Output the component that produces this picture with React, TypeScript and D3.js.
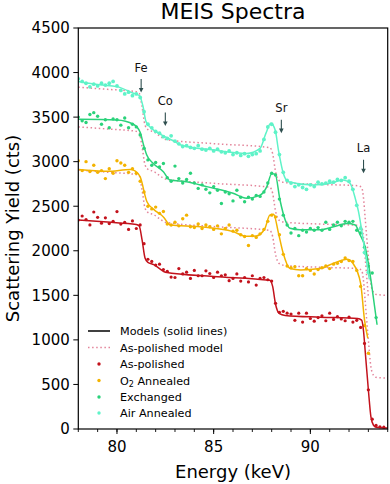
import React from 'react'
import * as d3 from 'd3'

// channel energies (keV) shared by all four spectra
const energies = [
  78.0, 78.2, 78.4, 78.6, 78.8, 79.0, 79.2, 79.4, 79.6, 79.8,
  80.0, 80.2, 80.4, 80.6, 80.8, 81.0, 81.2, 81.4, 81.6, 81.8,
  82.0, 82.2, 82.4, 82.6, 82.8, 83.0, 83.2, 83.4, 83.6, 83.8,
  84.0, 84.2, 84.4, 84.6, 84.8, 85.0, 85.2, 85.4, 85.6, 85.8,
  86.0, 86.2, 86.4, 86.6, 86.8, 87.0, 87.2, 87.4, 87.6, 87.8,
  88.0, 88.2, 88.4, 88.6, 88.8, 89.0, 89.2, 89.4, 89.6, 89.8,
  90.0, 90.2, 90.4, 90.6, 90.8, 91.0, 91.2, 91.4, 91.6, 91.8,
  92.0, 92.2, 92.4, 92.6, 92.8, 93.0, 93.2, 93.4, 93.6, 93.8
]

const polishedYield = [
  2345, 2390, 2350, 2290, 2435, 2375, 2310, 2370, 2305, 2330,
  2440, 2300, 2320, 2240, 2335, 2250, 2290, 2080, 1905, 1880,
  1840, 1850, 1790, 1770, 1705, 1700, 1800, 1740, 1760, 1690,
  1780, 1720, 1720, 1775, 1745, 1700, 1760, 1720, 1730, 1665,
  1690, 1740, 1660, 1700, 1650, 1720, 1615, 1690, 1700, 1675,
  1660, 1410, 1310, 1320, 1300, 1290, 1220, 1300, 1200, 1300,
  1240, 1210, 1250, 1270, 1215, 1300, 1230, 1260, 1235, 1215,
  1255, 1200, 1220, 1140, 960, 440, 110, 40, 25, 20
]

const o2Yield = [
  3010, 2900, 3000, 2890, 2960, 2880, 2900, 2810, 2920, 2870,
  3010, 2985, 2960, 2880, 2920, 2870, 2780, 2660, 2500, 2470,
  2490, 2420, 2440, 2300, 2290, 2320, 2280, 2360, 2400, 2270,
  2260, 2300, 2250, 2290, 2270, 2240, 2280, 2190, 2250, 2290,
  2220, 2230, 2180, 2160, 2060, 2170, 2150, 2190, 2240, 2330,
  2400, 2380, 2180, 1960, 1830, 1810, 1820, 1720, 1720, 1800,
  1780, 1740, 1790, 1810, 1830, 1800, 1850, 1860, 1880, 1920,
  1890, 1880, 1780, 1600, 1160, 850
]

const exchangedYield = [
  3500, 3460, 3440, 3530, 3550, 3510, 3420, 3470, 3380, 3480,
  3470, 3410, 3490, 3380, 3420, 3390, 3300, 3150, 3020, 2960,
  2990, 2940, 2980, 2820, 2780, 2950, 2810, 2760, 2800, 2870,
  2760, 2700, 2740, 2690, 2650, 2720, 2680, 2530, 2660, 2640,
  2560, 2680, 2600, 2550, 2600, 2580, 2620, 2610, 2660, 2760,
  2870, 2850, 2580, 2400, 2290, 2200, 2250, 2170, 2230, 2210,
  2250, 2230, 2260, 2230, 2320, 2240, 2290, 2320, 2280, 2330,
  2320, 2330, 2230, 2200, 2040, 1830, 1750, 1250
]

const airYield = [
  3930, 3900, 3880, 3840, 3870, 3850, 3880, 3860, 3880, 3900,
  3850, 3800, 3760, 3780, 3740, 3760, 3720, 3560, 3420, 3380,
  3340, 3320, 3280, 3260, 3290, 3230, 3200, 3170, 3180, 3160,
  3150, 3180, 3140, 3130, 3150, 3120, 3140, 3110, 3100, 3120,
  3080, 3100, 3070, 3090, 3060, 3080, 3090, 3120, 3250, 3390,
  3420, 3330, 3080, 2880, 2790, 2760, 2720, 2740, 2710, 2690,
  2740, 2720, 2770, 2750, 2760, 2780, 2770, 2800, 2790, 2820,
  2780, 2690, 2510, 2250, 1980, 1760
]

// fitted models (solid lines): [energy, yield]
const polishedModel = [
  [78, 2345], [79.5, 2322], [81.0, 2295], [81.15, 2278], [81.3, 2120], [81.45, 1920],
  [81.6, 1870], [81.9, 1845], [82.2, 1800], [82.5, 1760], [85, 1712], [87.9, 1668],
  [88.05, 1600], [88.2, 1400], [88.4, 1295], [88.7, 1275], [90.5, 1255], [92.45, 1240],
  [92.65, 1222], [92.75, 1100], [92.83, 890], [93.0, 440], [93.13, 140], [93.26, 45],
  [93.4, 20], [94, 10]
]
const o2Model = [
  [78, 2912], [79.5, 2892], [80.7, 2912], [80.95, 2895], [81.2, 2830], [81.55, 2550],
  [81.9, 2465], [82.4, 2380], [82.75, 2290], [84.3, 2270], [86.0, 2215], [86.7, 2162],
  [87.2, 2166], [87.65, 2250], [87.9, 2400], [88.1, 2410], [88.35, 2200], [88.6, 1970],
  [88.95, 1800], [89.5, 1785], [90.5, 1800], [91.2, 1860], [91.9, 1905], [92.2, 1860],
  [92.6, 1635], [92.8, 1225], [92.97, 1020]
]
const exchangedModel = [
  [78, 3475], [80, 3468], [80.85, 3420], [81.2, 3330], [81.36, 3200], [81.54, 3074],
  [81.88, 2980], [82.4, 2887], [82.74, 2795], [83.6, 2775], [84.64, 2720], [86, 2645],
  [86.7, 2590], [87.4, 2625], [87.75, 2720], [88.0, 2865], [88.18, 2860], [88.43, 2570],
  [88.7, 2345], [88.95, 2252], [89.47, 2235], [90.5, 2235], [91.2, 2270], [91.9, 2305],
  [92.32, 2290], [92.57, 2180], [92.83, 2045], [93.0, 1860], [93.18, 1600], [93.45, 1170]
]
const airModel = [
  [78, 3900], [79.1, 3862], [80, 3842], [80.85, 3768], [81.17, 3740], [81.35, 3616],
  [81.5, 3450], [81.78, 3375], [82.3, 3300], [83.0, 3224], [83.26, 3190], [85, 3130],
  [86.7, 3093], [87.4, 3150], [87.7, 3317], [87.95, 3430], [88.18, 3355], [88.35, 3130],
  [88.6, 2870], [88.86, 2775], [90.16, 2738], [91.02, 2757], [91.7, 2794], [92.05, 2757],
  [92.3, 2607], [92.49, 2440], [92.75, 2100], [93.05, 1680]
]

// as-polished model shifted under each treated spectrum
const dottedOffsets = [1490, 1045, 560]
const dottedEnds = [94, 93.0, 94]

const elements = ['Fe', 'Co', 'Sr', 'La']
const elementEnergies = [81.25, 82.5, 88.5, 92.75]
const elementArrowTips = [3775, 3400, 3320, 2870]

const colors = {
  polished: '#c3121c',
  o2: '#f3b300',
  exchanged: '#2ad27a',
  air: '#5ff3c8',
  dotted: '#e3849a',
  arrow: '#2f4f4f'
}

const W = 390
const H = 484
const margin = {top: 28, right: 2.3, bottom: 55, left: 78.3}
const font = 'DejaVu Sans, sans-serif'

export default function App() {
  const x = d3.scaleLinear().domain([78, 94]).range([margin.left, W - margin.right])
  const y = d3.scaleLinear().domain([0, 4500]).range([H - margin.bottom, margin.top])

  const line = d3
    .line<number[]>()
    .x(d => x(d[0]))
    .y(d => y(d[1]))
    .curve(d3.curveMonotoneX)

  const series = [
    {name: 'As-polished', values: polishedYield, model: polishedModel, color: colors.polished, r: 1.6},
    {name: 'O2 Annealed', values: o2Yield, model: o2Model, color: colors.o2, r: 1.7},
    {name: 'Exchanged', values: exchangedYield, model: exchangedModel, color: colors.exchanged, r: 1.7},
    {name: 'Air Annealed', values: airYield, model: airModel, color: colors.air, r: 1.9}
  ]

  const dotted = dottedOffsets.map((off, i) =>
    polishedModel.filter(d => d[0] <= dottedEnds[i]).map(d => [d[0], d[1] + off])
  )

  const x0 = margin.left
  const x1 = W - margin.right
  const y0 = H - margin.bottom
  const y1 = margin.top

  const legendRows = [331, 347.5, 364, 380.5, 397, 413]

  return (
    <svg
      width={W}
      height={H}
      style={{position: 'absolute', left: 0, top: 0, background: '#fff'}}
      fontFamily={font}
    >
      <defs>
        <clipPath id="plot">
          <rect x={x0} y={y1} width={x1 - x0} height={y0 - y1} />
        </clipPath>
      </defs>

      <text x={233} y={18.5} textAnchor="middle" fontSize={22}>
        MEIS Spectra
      </text>

      <g clipPath="url(#plot)">
        {dotted.map((d, i) => (
          <path
            key={'dot' + i}
            d={line(d) || ''}
            fill="none"
            stroke={colors.dotted}
            strokeWidth={1.5}
            strokeDasharray="1.5 2.6"
          />
        ))}
        {series.map(s => (
          <g key={s.name} fill={s.color}>
            {s.values.map((v, i) => (
              <circle key={i} cx={x(energies[i])} cy={y(v)} r={s.r} />
            ))}
          </g>
        ))}
        {series.map(s => (
          <path
            key={'m' + s.name}
            d={line(s.model) || ''}
            fill="none"
            stroke={s.color}
            strokeWidth={1.5}
          />
        ))}
      </g>

      {/* element edge markers */}
      {elements.map((el, i) => {
        const ex = x(elementEnergies[i])
        const tip = y(elementArrowTips[i])
        return (
          <g key={el} fill={colors.arrow}>
            <text x={ex} y={tip - 21} textAnchor="middle" fontSize={11.5} fill="#111">
              {el}
            </text>
            <line x1={ex} x2={ex} y1={tip - 13.5} y2={tip - 3} stroke={colors.arrow} strokeWidth={1.1} />
            <path d={`M${ex - 2.3},${tip - 4.6}L${ex + 2.3},${tip - 4.6}L${ex},${tip}Z`} />
          </g>
        )
      })}

      {/* frame */}
      <rect x={x0} y={y1} width={x1 - x0} height={y0 - y1} fill="none" stroke="#000" strokeWidth={1.2} />

      {/* y axis */}
      {y.ticks(9).map(t => (
        <g key={'y' + t}>
          <line x1={x0 - 5} x2={x0} y1={y(t)} y2={y(t)} stroke="#000" strokeWidth={1} />
          <text x={x0 - 8.5} y={y(t)} dy="0.36em" textAnchor="end" fontSize={15}>
            {t}
          </text>
        </g>
      ))}

      {/* x axis */}
      {x.ticks(16).map(t => (
        <line key={'xm' + t} x1={x(t)} x2={x(t)} y1={y0} y2={y0 + 3} stroke="#000" strokeWidth={0.9} />
      ))}
      {x.ticks(3).map(t => (
        <g key={'x' + t}>
          <line x1={x(t)} x2={x(t)} y1={y0} y2={y0 + 5} stroke="#000" strokeWidth={1} />
          <text x={x(t)} y={y0 + 22.5} textAnchor="middle" fontSize={15}>
            {t}
          </text>
        </g>
      ))}

      <text x={233} y={478} textAnchor="middle" fontSize={18}>
        Energy (keV)
      </text>
      <text transform={`translate(18.5,${(y0 + y1) / 2}) rotate(-90)`} textAnchor="middle" fontSize={18}>
        Scattering Yield (cts)
      </text>

      {/* legend */}
      <g fontSize={11.2}>
        <line x1={88} x2={110} y1={legendRows[0]} y2={legendRows[0]} stroke="#000" strokeWidth={1.5} />
        <text x={120} y={legendRows[0]} dy="0.36em">Models (solid lines)</text>
        <line
          x1={88}
          x2={110}
          y1={legendRows[1]}
          y2={legendRows[1]}
          stroke={colors.dotted}
          strokeWidth={1.5}
          strokeDasharray="1.5 2.6"
        />
        <text x={120} y={legendRows[1]} dy="0.36em">As-polished model</text>
        {series.map((s, i) => (
          <g key={'lg' + s.name}>
            <circle cx={99} cy={legendRows[i + 2]} r={1.7} fill={s.color} />
            <text x={120} y={legendRows[i + 2]} dy="0.36em">
              {s.name === 'O2 Annealed' ? (
                <>
                  O<tspan fontSize={8} dy="2.5">2</tspan>
                  <tspan dy="-2.5"> Annealed</tspan>
                </>
              ) : (
                s.name
              )}
            </text>
          </g>
        ))}
      </g>
    </svg>
  )
}
